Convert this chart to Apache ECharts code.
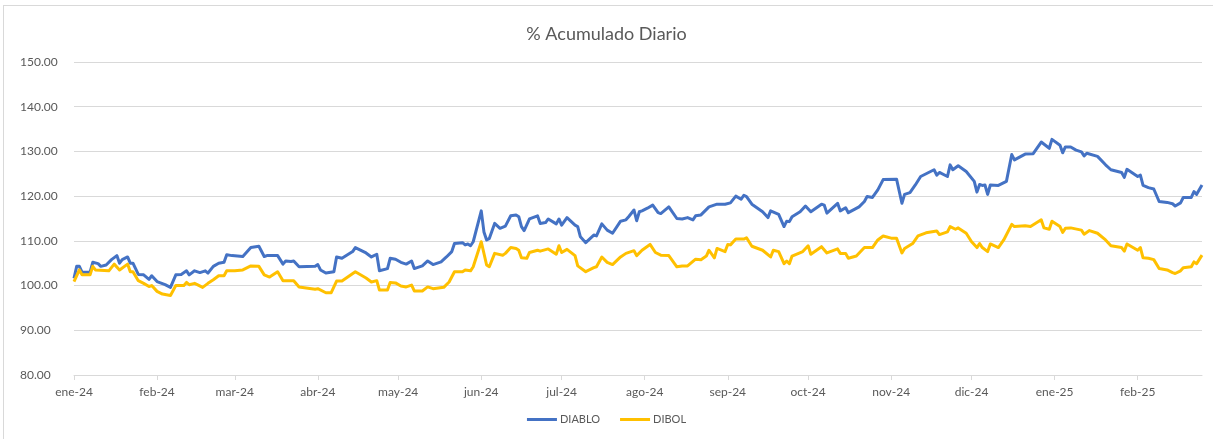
<!DOCTYPE html>
<html>
<head>
<meta charset="utf-8">
<script src="https://cdn.jsdelivr.net/npm/echarts@6/dist/echarts.min.js"></script>
<style>
  html, body { margin: 0; padding: 0; background: #fff; }
  #frame { position: absolute; left: 3px; top: 5px; width: 1220px; height: 450px; border: 1px solid #d9d9d9; box-sizing: border-box; }
  #chart { position: absolute; left: 0; top: 0; width: 1213px; height: 439px; }
</style>
</head>
<body>
<div id="frame"></div>
<div id="chart"></div>
<script>
// day offsets from 2024-01-01
const diabloDays = [0, 1, 2, 3, 6, 7, 9, 10, 12, 14, 16, 17, 18, 20, 21, 22, 24, 26, 28, 29, 31, 34, 36, 38, 40, 42, 43, 45, 47, 49, 50, 52, 54, 56, 57, 59, 63, 66, 69, 71, 72, 76, 78, 79, 81, 82, 84, 90, 91, 92, 94, 97, 98, 100, 104, 105, 109, 111, 113, 114, 117, 118, 120, 122, 124, 126, 127, 130, 132, 134, 137, 139, 141, 142, 145, 146, 147, 148, 149, 152, 153, 154, 155, 157, 159, 161, 163, 165, 166, 167, 168, 170, 173, 174, 176, 177, 180, 181, 182, 184, 187, 188, 189, 191, 194, 195, 197, 199, 201, 204, 206, 207, 209, 210, 211, 212, 214, 216, 218, 219, 222, 225, 227, 229, 231, 232, 234, 237, 240, 243, 245, 247, 249, 250, 251, 253, 257, 259, 260, 263, 265, 266, 267, 268, 271, 273, 275, 279, 280, 281, 285, 286, 288, 289, 293, 295, 296, 298, 300, 302, 307, 309, 310, 312, 314, 316, 321, 322, 323, 326, 327, 328, 330, 333, 336, 337, 338, 339, 340, 341, 342, 345, 348, 350, 351, 355, 358, 361, 364, 365, 368, 369, 370, 372, 374, 376, 377, 378, 382, 385, 387, 391, 392, 393, 397, 398, 399, 401, 403, 405, 408, 410, 411, 413, 414, 417, 418, 419, 421];
const diabloValues = [101.6, 104.3, 104.3, 103.0, 103.0, 105.2, 104.9, 104.3, 104.6, 105.8, 106.7, 105.0, 105.8, 106.4, 105.0, 105.0, 102.5, 102.4, 101.4, 102.2, 100.9, 100.2, 99.6, 102.4, 102.5, 103.3, 102.4, 103.3, 102.9, 103.3, 102.8, 104.3, 105.0, 105.2, 106.9, 106.7, 106.5, 108.5, 108.8, 106.5, 106.7, 106.7, 104.8, 105.5, 105.4, 105.5, 104.2, 104.3, 104.7, 103.5, 102.8, 103.1, 106.4, 106.1, 107.6, 108.5, 107.3, 106.4, 107.0, 103.3, 103.8, 106.1, 105.9, 105.2, 104.8, 105.5, 103.8, 104.4, 105.5, 104.7, 105.3, 106.4, 107.6, 109.4, 109.6, 109.1, 109.3, 108.9, 109.8, 116.7, 112.0, 110.2, 110.5, 113.9, 112.8, 113.3, 115.6, 115.8, 115.4, 113.2, 112.3, 114.9, 115.6, 113.9, 114.1, 114.9, 113.8, 114.9, 113.5, 115.2, 113.5, 113.2, 110.9, 109.6, 111.3, 111.1, 113.8, 112.4, 111.7, 114.4, 114.7, 115.4, 116.9, 114.5, 116.5, 116.7, 117.3, 118.0, 116.3, 116.1, 117.6, 115.0, 114.9, 115.2, 114.7, 115.6, 115.8, 117.6, 118.2, 118.2, 118.5, 120.0, 119.3, 120.2, 119.9, 118.2, 116.5, 115.2, 116.7, 115.9, 113.2, 114.4, 114.3, 115.4, 116.5, 117.8, 116.5, 118.2, 118.0, 116.2, 118.4, 116.7, 117.4, 116.3, 117.6, 118.8, 119.9, 119.7, 121.4, 123.7, 123.8, 118.4, 120.4, 120.8, 122.5, 124.4, 125.9, 124.7, 125.3, 124.4, 127.0, 125.9, 126.8, 125.5, 123.3, 120.9, 122.6, 122.4, 122.5, 120.4, 122.5, 122.4, 123.3, 129.3, 128.1, 129.4, 129.5, 132.1, 130.7, 132.7, 131.4, 129.7, 131.0, 131.0, 130.3, 129.9, 129.0, 129.6, 128.9, 127.0, 125.9, 125.3, 124.2, 126.0, 124.4, 124.7, 122.4, 121.9, 121.6, 118.8, 118.6, 118.3, 117.8, 118.5, 119.7, 119.7, 121.0, 120.4, 122.5];

const dibolDays = [0, 2, 3, 6, 7, 8, 13, 15, 17, 20, 21, 22, 24, 26, 28, 29, 31, 33, 36, 38, 41, 42, 43, 45, 46, 48, 50, 52, 54, 56, 57, 60, 63, 66, 69, 71, 73, 76, 78, 81, 82, 84, 90, 91, 94, 96, 98, 100, 105, 109, 111, 113, 114, 117, 118, 120, 122, 124, 126, 127, 130, 132, 134, 138, 140, 142, 145, 146, 148, 149, 152, 154, 155, 157, 160, 161, 163, 165, 166, 167, 169, 170, 173, 174, 177, 180, 181, 182, 184, 187, 188, 191, 194, 195, 197, 199, 201, 204, 206, 209, 210, 212, 215, 217, 219, 222, 225, 227, 229, 232, 234, 236, 237, 239, 240, 243, 244, 245, 247, 250, 251, 253, 257, 260, 261, 263, 265, 266, 267, 268, 272, 274, 275, 279, 281, 285, 286, 288, 289, 292, 295, 298, 300, 302, 305, 307, 309, 310, 313, 315, 318, 322, 323, 326, 327, 329, 330, 333, 335, 337, 338, 339, 341, 342, 345, 347, 350, 351, 355, 357, 361, 362, 364, 365, 368, 369, 370, 372, 376, 377, 379, 382, 385, 387, 391, 392, 393, 397, 398, 399, 401, 403, 405, 408, 410, 411, 413, 414, 417, 418, 419, 421];
const dibolValues = [100.9, 103.5, 102.4, 102.4, 104.3, 103.5, 103.3, 104.8, 103.5, 104.8, 103.1, 103.1, 101.1, 100.5, 99.8, 100.0, 98.7, 98.1, 97.8, 100.0, 100.0, 100.7, 100.2, 100.5, 100.2, 99.6, 100.5, 101.3, 102.2, 102.2, 103.3, 103.3, 103.5, 104.4, 104.3, 102.4, 101.9, 103.1, 101.1, 101.1, 101.1, 99.7, 99.2, 99.3, 98.4, 98.4, 101.0, 101.0, 103.1, 101.7, 100.8, 101.1, 99.0, 99.0, 100.7, 100.6, 99.9, 99.7, 100.1, 98.8, 98.8, 99.7, 99.3, 99.6, 100.8, 103.1, 103.1, 103.5, 103.3, 104.2, 109.8, 104.6, 104.2, 107.2, 106.8, 107.2, 108.5, 108.3, 107.9, 106.2, 106.1, 107.4, 107.9, 107.7, 108.2, 107.0, 108.9, 107.4, 108.1, 106.7, 104.4, 103.1, 104.0, 104.2, 106.4, 105.2, 104.7, 106.4, 107.2, 107.8, 106.7, 107.9, 109.2, 107.4, 106.8, 106.7, 104.2, 104.4, 104.4, 105.9, 105.8, 106.6, 107.9, 106.2, 108.3, 107.6, 109.2, 109.1, 110.4, 110.4, 110.7, 108.8, 107.9, 106.4, 107.9, 107.6, 104.9, 105.5, 104.9, 106.6, 107.6, 108.9, 107.0, 108.7, 107.3, 108.2, 107.2, 107.2, 106.1, 106.6, 108.5, 108.5, 110.2, 111.1, 110.6, 110.6, 107.3, 108.3, 109.4, 111.1, 111.8, 112.2, 111.4, 112.0, 113.2, 112.6, 112.9, 111.7, 109.8, 108.5, 109.4, 108.5, 107.6, 109.3, 108.5, 110.2, 113.7, 113.2, 113.4, 113.2, 114.7, 112.9, 112.6, 114.4, 113.2, 111.9, 112.8, 112.9, 112.4, 111.5, 112.3, 111.7, 110.2, 108.9, 108.5, 107.7, 109.3, 107.9, 108.5, 106.2, 106.1, 105.8, 103.8, 103.5, 102.9, 102.7, 103.3, 104.0, 104.2, 105.3, 104.9, 106.8];

const monthNames = ['ene', 'feb', 'mar', 'abr', 'may', 'jun', 'jul', 'ago', 'sep', 'oct', 'nov', 'dic'];
const lastDay = 421;

function dayToTime(d) {
  return new Date(2024, 0, 1 + d).getTime();
}

function pairs(days, values) {
  return days.map((d, i) => [dayToTime(d), values[i]]);
}

const FONT = 'Lato';
const TEXT = '#595959';
const DAY = 864e5;

const chart = echarts.init(document.getElementById('chart'), null, { renderer: 'canvas' });

chart.setOption({
  animation: false,
  backgroundColor: 'transparent',
  title: {
    text: '% Acumulado Diario',
    left: 'center',
    top: 20,
    textStyle: { fontFamily: FONT, fontSize: 18, fontWeight: 'normal', color: TEXT }
  },
  legend: {
    bottom: 9,
    left: 'center',
    icon: 'rect',
    itemWidth: 30,
    itemHeight: 3,
    itemGap: 20,
    textStyle: { fontFamily: FONT, fontSize: 11, color: TEXT, padding: [0, 0, 0, -2] },
    data: ['DIABLO', 'DIBOL']
  },
  grid: { left: 74, right: 11, top: 62, bottom: 64 },
  xAxis: {
    type: 'time',
    min: dayToTime(0),
    max: dayToTime(lastDay),
    splitNumber: 14,
    minInterval: 28 * DAY,
    maxInterval: 31 * DAY,
    axisLine: { lineStyle: { color: '#d9d9d9', width: 1 } },
    axisTick: { show: true, length: 5, lineStyle: { color: '#d9d9d9' } },
    splitLine: { show: false },
    axisLabel: {
      fontFamily: FONT,
      fontSize: 12,
      color: TEXT,
      margin: 11,
      hideOverlap: false,
      formatter: (v) => {
        const d = new Date(v);
        return monthNames[d.getMonth()] + '-' + String(d.getFullYear()).slice(2);
      }
    }
  },
  yAxis: {
    type: 'value',
    min: 80,
    max: 150,
    interval: 10,
    axisLine: { show: false },
    axisTick: { show: false },
    splitLine: { lineStyle: { color: '#d9d9d9', width: 1 } },
    axisLabel: {
      fontFamily: FONT,
      fontSize: 12,
      color: TEXT,
      align: 'left',
      margin: 54,
      formatter: (v) => v.toFixed(2)
    }
  },
  series: [
    {
      name: 'DIABLO',
      type: 'line',
      data: pairs(diabloDays, diabloValues),
      showSymbol: false,
      color: '#4472c4',
      lineStyle: { width: 3, color: '#4472c4', join: 'round' }
    },
    {
      name: 'DIBOL',
      type: 'line',
      data: pairs(dibolDays, dibolValues),
      showSymbol: false,
      color: '#ffc000',
      lineStyle: { width: 3, color: '#ffc000', join: 'round' }
    }
  ]
});
</script>
</body>
</html>
